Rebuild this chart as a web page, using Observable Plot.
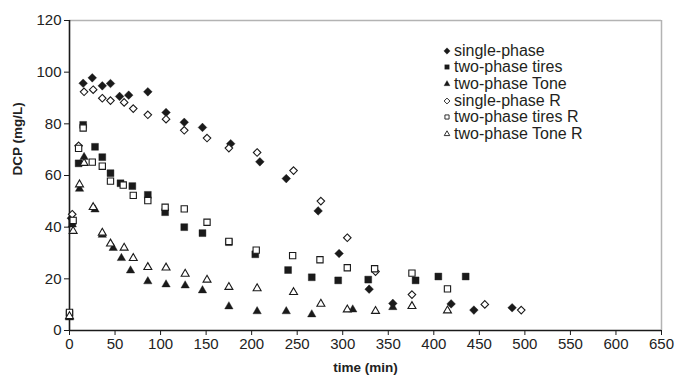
<!DOCTYPE html>
<html><head><meta charset="utf-8">
<script src="https://cdn.jsdelivr.net/npm/d3@7"></script>
<script src="https://cdn.jsdelivr.net/npm/@observablehq/plot@0.6"></script>
<style>
body{margin:0;background:#fff;font-family:"Liberation Sans",Arial,sans-serif;}
#wrap{position:relative;width:676px;height:382px;}
#wrap svg g[aria-label="x-axis tick label"] text,
#wrap svg g[aria-label="y-axis tick label"] text{font-size:15px;}
#legend{position:absolute;left:442px;top:42.5px;font-size:16px;color:#231f20;}
.item{display:flex;align-items:center;height:16.6px;white-space:nowrap}
.item svg{width:10px;height:10px;margin-right:2px;overflow:visible}
</style></head><body><div id="wrap"></div>
<script>
// ---- data ----
const xTicks = [0,50,100,150,200,250,300,350,400,450,500,550,600,650];
const yTicks = [0,20,40,60,80,100,120];
const xLabel = "time (min)";
const yLabel = "DCP (mg/L)";

const singlePhaseT = [2,15,25,36,45,55,65,86,106,126,146,177,209,238,273,296,329,355,419,444,486];
const singlePhaseV = [43.5,95.7,97.8,94.7,95.6,90.6,91.1,92.4,84.4,80.6,78.6,72.3,65.3,58.8,46.3,29.8,16.0,10.5,10.3,7.9,8.8];

const tiresT = [0,3,10,15,28,36,45,56,69,86,105,126,146,175,204,240,266,295,328,380,405,435];
const tiresV = [6.5,42,64.7,79.6,71.1,67.1,60.9,57,55.9,52.5,45.8,40,37.7,34.2,29.5,23.4,20.6,19.4,19.7,19.4,20.9,20.9];

const toneT = [0,3,11,16,28,36,48,57,67,86,106,127,146,175,206,238,266,311,355];
const toneV = [5,41,54.8,67.1,46.8,37,31.9,28,23.2,19,17.8,17.4,15.5,9.3,7.4,7.4,6.2,8.1,9.0];

const singlePhaseRT = [3,10,16,26,36,45,60,70,86,106,126,151,175,206,246,276,305,336,376,456,496];
const singlePhaseRV = [45,71.5,92.4,93.2,89.9,89,88.3,85.9,83.5,81.8,77.5,74.5,70.6,68.9,61.9,50.1,35.9,22.8,13.9,10.1,7.9];

const tiresRT = [0,4,10,15,25,36,45,59,70,86,105,126,151,175,205,245,275,305,335,376,415];
const tiresRV = [7,42.6,70.5,78.4,65.2,63.6,57.8,56.3,52.3,50.3,47.7,47.1,41.9,34.5,31.1,29.0,27.4,24.3,23.9,22.2,16.1];

const toneRT = [0,4,11,16,26,36,45,60,70,86,106,127,151,175,206,246,276,305,336,376,415];
const toneRV = [5.5,38.5,56.5,64.8,47.7,37.8,33.6,32,28,24.5,24.3,21.9,19.6,16.8,16.3,14.8,10.3,8.1,7.5,9.4,7.7];

const seriesNames = ["single-phase","two-phase tires","two-phase Tone","single-phase R","two-phase tires R","two-phase Tone R"];

// ---- build ----
const ink = "#1a1a1a";
const defs = [
  {name: seriesNames[0], t: singlePhaseT, v: singlePhaseV, symbol: "diamond2", filled: true, r: 3.9},
  {name: seriesNames[1], t: tiresT, v: tiresV, symbol: "square2", filled: true, r: 4.4},
  {name: seriesNames[2], t: toneT, v: toneV, symbol: "triangle2", filled: true, r: 4.0},
  {name: seriesNames[3], t: singlePhaseRT, v: singlePhaseRV, symbol: "diamond2", filled: false, r: 3.4},
  {name: seriesNames[4], t: tiresRT, v: tiresRV, symbol: "square2", filled: false, r: 4.0},
  {name: seriesNames[5], t: toneRT, v: toneRV, symbol: "triangle2", filled: false, r: 3.8}
];

const marks = [
  Plot.ruleY([yTicks[yTicks.length-1]], {stroke: "#b3b3b3", strokeWidth: 1.5}),
  Plot.ruleX([xTicks[xTicks.length-1]], {stroke: "#b3b3b3", strokeWidth: 1.5}),
  Plot.axisX({ticks: xTicks, tickSize: 5, tickPadding: 3, label: null, stroke: ink, fill: "#222"}),
  Plot.axisY({ticks: yTicks, tickSize: 5, tickPadding: 3, label: null, stroke: ink, fill: "#222"}),
  Plot.ruleY([yTicks[0]], {stroke: ink, strokeWidth: 1.6}),
  Plot.ruleX([xTicks[0]], {stroke: ink, strokeWidth: 1.6}),
  Plot.text([xLabel], {frameAnchor: "bottom", dy: 41, fontWeight: "bold", fontSize: 13.5, fill: "#222"}),
  Plot.text([yLabel], {frameAnchor: "left", dx: -52, rotate: -90, fontWeight: "bold", fontSize: 13.5, fill: "#222"})
];
for (const s of defs) {
  const data = s.t.map((t, i) => ({t, v: s.v[i]}));
  marks.push(Plot.dot(data, {
    x: "t", y: "v", symbol: s.symbol, r: s.r,
    fill: s.filled ? ink : "white",
    stroke: ink, strokeWidth: s.filled ? 0.4 : 1.1
  }));
}

const chart = Plot.plot({
  width: 676, height: 382,
  marginLeft: 69, marginRight: 15, marginTop: 20, marginBottom: 52,
  x: {domain: [xTicks[0], xTicks[xTicks.length-1]]},
  y: {domain: [yTicks[0], yTicks[yTicks.length-1]]},
  style: {fontFamily: '"Liberation Sans", Arial, sans-serif', fontSize: "14px", background: "white", overflow: "visible"},
  marks
});
const wrap = document.getElementById("wrap");
wrap.appendChild(chart);

// legend
const legend = document.createElement("div");
legend.id = "legend";
for (const s of defs) {
  const item = document.createElement("div");
  item.className = "item";
  const svg = d3.create("svg").attr("viewBox", "-5 -5 10 10");
  const typ = {diamond2: d3.symbolDiamond2, square2: d3.symbolSquare2, triangle2: d3.symbolTriangle2}[s.symbol];
  svg.append("path").attr("d", d3.symbol(typ, s.filled ? 26 : 22)())
    .attr("fill", s.filled ? ink : "white").attr("stroke", ink).attr("stroke-width", s.filled ? 0.3 : 0.9);
  item.appendChild(svg.node());
  const span = document.createElement("span");
  span.textContent = s.name;
  item.appendChild(span);
  legend.appendChild(item);
}
wrap.appendChild(legend);
</script>
</body></html>
